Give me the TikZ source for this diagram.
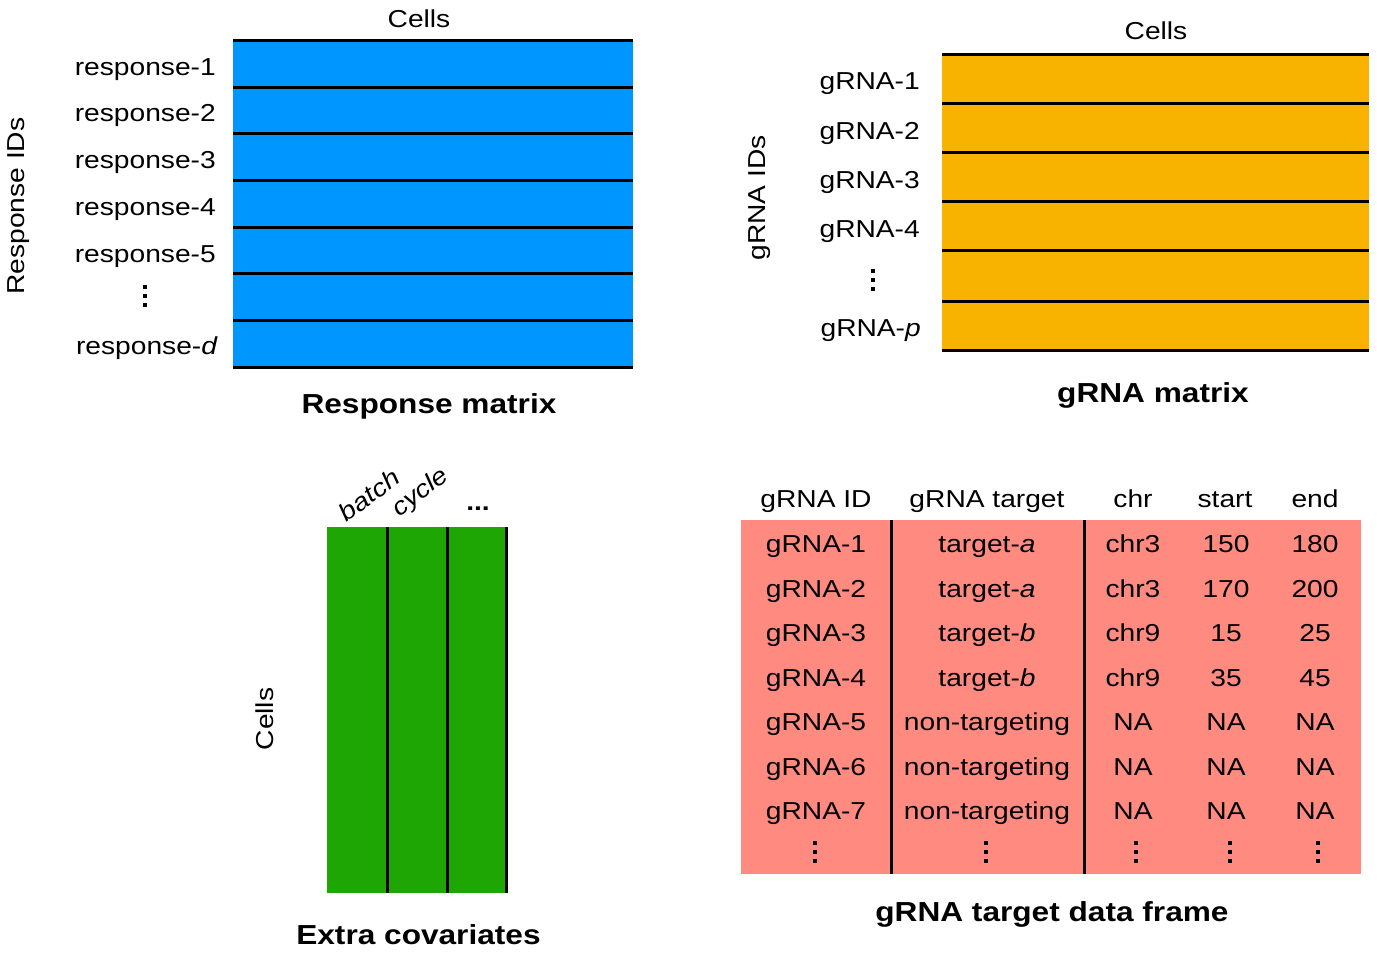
\documentclass[tikz,border=0pt]{standalone}
\usepackage{fontspec}
\setmainfont[FakeStretch=1.15]{Liberation Sans}
\definecolor{rblue}{RGB}{0,150,255}
\definecolor{gorange}{RGB}{248,178,0}
\definecolor{cgreen}{RGB}{29,166,4}
\definecolor{tpink}{RGB}{255,138,128}
\newcommand{\dotsq}{\hrule width3.4pt height3.4pt}
\newcommand{\vdts}{\vbox{\dotsq\vskip5.6pt\dotsq\vskip5.6pt\dotsq}}
\begin{document}
\begin{tikzpicture}[x=1pt,y=-1pt,
  lbl/.style={inner sep=0pt,font=\fontsize{24.5}{29}\selectfont},
  ttl/.style={inner sep=0pt,font=\fontsize{27.5}{32}\selectfont\bfseries},
  sep/.style={line width=3pt,black},
  vd/.style={inner sep=0pt}]
\useasboundingbox (0,0) rectangle (1377,954);

% ---------- Response matrix ----------
\fill[rblue] (233,40) rectangle (633,367);
\foreach \yy in {40,87,133.5,180,227,273.5,320,367}
  \draw[sep] (233,\yy) -- (633,\yy);
\node[lbl,anchor=base] (rcells) at (419,27) {Cells};
\node[lbl,anchor=base,rotate=90] (rids) at (24,206) {Response IDs};
\node[lbl,anchor=base east] (r1) at (216,75) {response-1};
\node[lbl,anchor=base east] (r2) at (216,121.5) {response-2};
\node[lbl,anchor=base east] (r3) at (216,168) {response-3};
\node[lbl,anchor=base east] (r4) at (216,215) {response-4};
\node[lbl,anchor=base east] (r5) at (216,262) {response-5};
\node[vd] (rdots) at (145,296) {\vdts};
\node[lbl,anchor=base east] (rd) at (218,354) {response-\textit{d}};
\node[ttl,anchor=base] (rtitle) at (429,413) {Response matrix};

% ---------- gRNA matrix ----------
\fill[gorange] (942,54) rectangle (1369,350);
\foreach \yy in {54,103.3,152.3,201.7,250.7,301,350}
  \draw[sep] (942,\yy) -- (1369,\yy);
\node[lbl,anchor=base] (gcells) at (1156,39) {Cells};
\node[lbl,anchor=base,rotate=90] (gids) at (765,198) {gRNA IDs};
\node[lbl,anchor=base east] (g1) at (920,89.5) {gRNA-1};
\node[lbl,anchor=base east] (g2) at (920,139) {gRNA-2};
\node[lbl,anchor=base east] (g3) at (920,188) {gRNA-3};
\node[lbl,anchor=base east] (g4) at (920,237) {gRNA-4};
\node[vd] (gdots) at (873,280) {\vdts};
\node[lbl,anchor=base east] (gp) at (921,336.5) {gRNA-\textit{p}};
\node[ttl,anchor=base] (gtitle) at (1153,402) {gRNA matrix};

% ---------- Extra covariates ----------
\fill[cgreen] (327,527) rectangle (506,893);
\foreach \xx in {387,447,506}
  \draw[sep] (\xx,527) -- (\xx,893);
\node[lbl,anchor=base,rotate=90] (ccells) at (273,719) {Cells};
\node[lbl,rotate=37] (batch) at (369,495) {\textit{batch}};
\node[lbl,rotate=37] (cycle) at (421,493) {\textit{cycle}};
\node[lbl,anchor=base,font=\fontsize{24.5}{29}\selectfont\bfseries] (cdots) at (478,510) {...};
\node[ttl,anchor=base] (ctitle) at (418.5,944) {Extra covariates};

% ---------- gRNA target data frame ----------
\fill[tpink] (741,520) rectangle (1361,874);
\draw[sep] (891,520) -- (891,874);
\draw[sep] (1084,520) -- (1084,874);
\node[lbl,anchor=base] (h1) at (816,507) {gRNA ID};
\node[lbl,anchor=base] (h2) at (987,507) {gRNA target};
\node[lbl,anchor=base] (h3) at (1133,507) {chr};
\node[lbl,anchor=base] (h4) at (1225,507) {start};
\node[lbl,anchor=base] (h5) at (1315,507) {end};

\node[lbl,anchor=base] (a1) at (816,552) {gRNA-1};
\node[lbl,anchor=base] (b1) at (987,552) {target-\textit{a}};
\node[lbl,anchor=base] (c1) at (1133,552) {chr3};
\node[lbl,anchor=base] (d1) at (1226,552) {150};
\node[lbl,anchor=base] (e1) at (1315,552) {180};

\node[lbl,anchor=base] (a2) at (816,597) {gRNA-2};
\node[lbl,anchor=base] (b2) at (987,597) {target-\textit{a}};
\node[lbl,anchor=base] (c2) at (1133,597) {chr3};
\node[lbl,anchor=base] (d2) at (1226,597) {170};
\node[lbl,anchor=base] (e2) at (1315,597) {200};

\node[lbl,anchor=base] (a3) at (816,641.5) {gRNA-3};
\node[lbl,anchor=base] (b3) at (987,641.5) {target-\textit{b}};
\node[lbl,anchor=base] (c3) at (1133,641.5) {chr9};
\node[lbl,anchor=base] (d3) at (1226,641.5) {15};
\node[lbl,anchor=base] (e3) at (1315,641.5) {25};

\node[lbl,anchor=base] (a4) at (816,686) {gRNA-4};
\node[lbl,anchor=base] (b4) at (987,686) {target-\textit{b}};
\node[lbl,anchor=base] (c4) at (1133,686) {chr9};
\node[lbl,anchor=base] (d4) at (1226,686) {35};
\node[lbl,anchor=base] (e4) at (1315,686) {45};

\node[lbl,anchor=base] (a5) at (816,730) {gRNA-5};
\node[lbl,anchor=base] (b5) at (987,730) {non-targeting};
\node[lbl,anchor=base] (c5) at (1133,730) {NA};
\node[lbl,anchor=base] (d5) at (1226,730) {NA};
\node[lbl,anchor=base] (e5) at (1315,730) {NA};

\node[lbl,anchor=base] (a6) at (816,775) {gRNA-6};
\node[lbl,anchor=base] (b6) at (987,775) {non-targeting};
\node[lbl,anchor=base] (c6) at (1133,775) {NA};
\node[lbl,anchor=base] (d6) at (1226,775) {NA};
\node[lbl,anchor=base] (e6) at (1315,775) {NA};

\node[lbl,anchor=base] (a7) at (816,819.5) {gRNA-7};
\node[lbl,anchor=base] (b7) at (987,819.5) {non-targeting};
\node[lbl,anchor=base] (c7) at (1133,819.5) {NA};
\node[lbl,anchor=base] (d7) at (1226,819.5) {NA};
\node[lbl,anchor=base] (e7) at (1315,819.5) {NA};

\node[vd] (adots) at (815,852) {\vdts};
\node[vd] (bdots) at (986,852) {\vdts};
\node[vd] (cdotsb) at (1136,852) {\vdts};
\node[vd] (ddots) at (1230,852) {\vdts};
\node[vd] (edots) at (1318,852) {\vdts};
\node[ttl,anchor=base] (ttitle) at (1052,921) {gRNA target data frame};
\end{tikzpicture}
\end{document}
